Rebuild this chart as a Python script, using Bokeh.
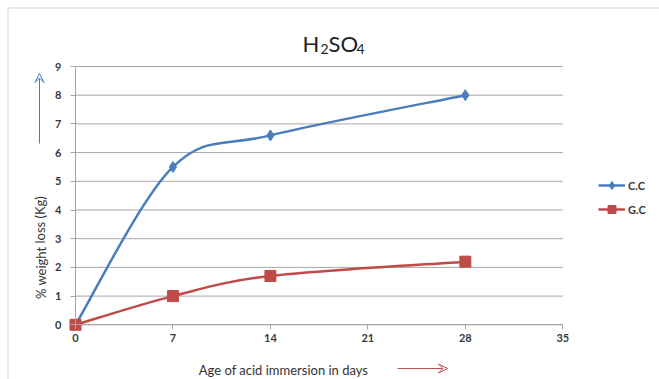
from bokeh.plotting import figure
from bokeh.embed import file_html
from bokeh.resources import INLINE
from bokeh.models import (Range1d, FixedTicker, Legend, LegendItem, Label, Arrow,
                          VeeHead, BoxAnnotation, ColumnDataSource)

days = [0, 7, 14, 28]
cc = [0.0, 5.5, 6.6, 8.0]
gc = [0.0, 1.0, 1.7, 2.2]
x_ticks = [0, 7, 14, 21, 28, 35]
y_ticks = [0, 1, 2, 3, 4, 5, 6, 7, 8, 9]
series_names = ["C.C", "G.C"]
title_parts = ["H", "2", "SO", "4"]
x_label = "Age of acid immersion in days"
y_label = "% weight loss (Kg)"

BLUE = "#4A7EBB"
RED = "#BE4B48"
GRID = "#A6A6A6"
FONT = "Lato"
W, H = 659, 379

# pixel geometry of the plotting area (left, right, bottom, top)
PX_L, PX_R, PX_B, PX_T = 75.0, 562.3, 324.3, 66.0
XMAX, YMAX = x_ticks[-1], y_ticks[-1]
sx = XMAX / (PX_R - PX_L)
sy = YMAX / (PX_B - PX_T)


def xd(px):
    return (px - PX_L) * sx


def yd(py):
    return (PX_B - py) * sy


def smooth_segments(xs, ys):
    n = len(xs)
    out = dict(x0=[], y0=[], x1=[], y1=[], cx0=[], cy0=[], cx1=[], cy1=[])
    for i in range(n - 1):
        pm = max(i - 1, 0)
        pp = min(i + 2, n - 1)
        out["x0"].append(xs[i]); out["y0"].append(ys[i])
        out["x1"].append(xs[i + 1]); out["y1"].append(ys[i + 1])
        out["cx0"].append(xs[i] + (xs[i + 1] - xs[pm]) / 6.0)
        out["cy0"].append(ys[i] + (ys[i + 1] - ys[pm]) / 6.0)
        out["cx1"].append(xs[i + 1] - (xs[pp] - xs[i]) / 6.0)
        out["cy1"].append(ys[i + 1] - (ys[pp] - ys[i]) / 6.0)
    return ColumnDataSource(out)


p = figure(width=W, height=H, output_backend="svg", toolbar_location=None,
           x_range=Range1d(xd(0), xd(W)), y_range=Range1d(yd(H), yd(0)),
           min_border=0)
p.title.visible = False
p.outline_line_color = None
p.background_fill_color = "white"
p.border_fill_color = "white"
p.xgrid.visible = False
p.ygrid.visible = False

# horizontal gridlines, one per y tick
p.segment(x0=[0] * len(y_ticks), x1=[XMAX] * len(y_ticks), y0=y_ticks, y1=y_ticks,
          line_color=GRID, line_width=1)

for ax in (p.xaxis[0], p.yaxis[0]):
    ax.fixed_location = 0
    ax.axis_line_color = GRID
    ax.major_tick_line_color = GRID
    ax.minor_tick_line_color = None
    ax.major_tick_in = 0
    ax.major_tick_out = 5
    ax.major_label_text_font = FONT
    ax.major_label_text_font_size = "11px"
    ax.major_label_text_font_style = "bold"
    ax.major_label_text_color = "#3A3A3A"
p.xaxis.ticker = FixedTicker(ticks=x_ticks)
p.yaxis.ticker = FixedTicker(ticks=y_ticks)
p.xaxis.bounds = (0, XMAX)
p.yaxis.bounds = (0, YMAX)
p.xaxis.major_label_standoff = 4
p.yaxis.major_label_standoff = 9

src_cc = smooth_segments(days, cc)
src_gc = smooth_segments(days, gc)
bc = p.bezier(x0="x0", y0="y0", x1="x1", y1="y1", cx0="cx0", cy0="cy0", cx1="cx1", cy1="cy1",
              source=src_cc, line_color=BLUE, line_width=2.5)
bg = p.bezier(x0="x0", y0="y0", x1="x1", y1="y1", cx0="cx0", cy0="cy0", cx1="cx1", cy1="cy1",
              source=src_gc, line_color=RED, line_width=2.5)
mc = p.scatter(days, cc, marker="diamond", size=11, fill_color=BLUE, line_color=BLUE)
mg = p.scatter(days, gc, marker="square", size=11, fill_color=RED, line_color=RED)

legend = Legend(items=[LegendItem(label=series_names[0], renderers=[bc, mc]),
                       LegendItem(label=series_names[1], renderers=[bg, mg])],
                location=(598, 160), border_line_color=None, background_fill_alpha=0,
                padding=0, margin=0, spacing=4, label_height=20, glyph_height=20,
                label_text_font=FONT, label_text_font_size="11px", label_text_font_style="bold",
                label_text_color="#3A3A3A", glyph_width=27, label_standoff=3)
p.add_layout(legend, "center")

# outer chart border
p.add_layout(BoxAnnotation(left=xd(7.5), right=xd(W + 20), top=yd(7.5), bottom=yd(H + 20),
                           fill_alpha=0, line_color="#A0A0A0", line_width=1.5))

# title H2SO4 with subscripts
for txt, px, py, size in zip(title_parts, [302, 320, 328, 356], [43, 48, 43, 48],
                             ["22px", "14px", "22px", "14px"]):
    p.add_layout(Label(x=xd(px), y=yd(py), text=txt, text_font=FONT, text_font_size=size,
                       text_color="#222222", text_baseline="alphabetic"))

p.add_layout(Label(x=xd(283), y=yd(369), text=x_label, text_font=FONT,
                   text_font_size="13px", text_color="#333333",
                   text_align="center", text_baseline="middle"))
p.add_layout(Label(x=xd(40), y=yd(247), angle=1.5708, text=y_label, text_font=FONT,
                   text_font_size="13px", text_color="#333333",
                   text_align="center", text_baseline="middle"))

p.add_layout(Arrow(x_start=xd(397), y_start=yd(368), x_end=xd(447), y_end=yd(368),
                   line_color="#C0504D", line_width=1,
                   end=VeeHead(size=9, line_color="#C0504D", line_width=1, fill_alpha=0)))
p.add_layout(Arrow(x_start=xd(39), y_start=yd(143), x_end=xd(39), y_end=yd(73),
                   line_color=BLUE, line_width=1,
                   end=VeeHead(size=9, line_color=BLUE, line_width=1, fill_alpha=0)))

open("out.html", "w").write(file_html(p, INLINE))
